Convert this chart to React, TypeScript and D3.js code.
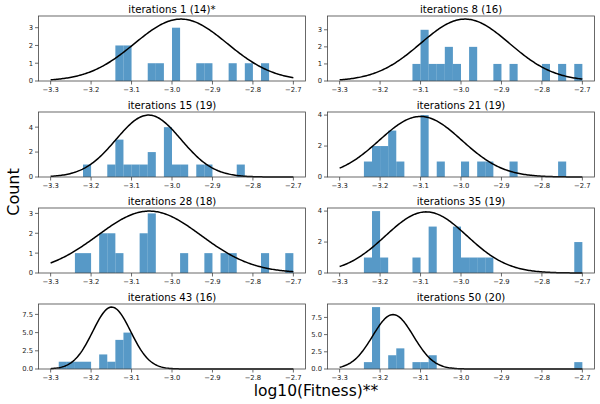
import React from "react";
import * as d3 from "d3";

const titles = [
  "iterations 1 (14)*",
  "iterations 8 (16)",
  "iterations 15 (19)",
  "iterations 21 (19)",
  "iterations 28 (18)",
  "iterations 35 (19)",
  "iterations 43 (16)",
  "iterations 50 (20)",
];

// bin left edges (bin width 0.02) and counts per panel
const binStarts: number[][] = [
  [-3.14, -3.12, -3.06, -3.04, -3.0, -2.94, -2.92, -2.86, -2.82, -2.78],
  [-3.12, -3.1, -3.08, -3.06, -3.04, -3.02, -2.98, -2.92, -2.88, -2.8, -2.76, -2.72],
  [-3.22, -3.16, -3.14, -3.12, -3.1, -3.08, -3.06, -3.02, -3.0, -2.98, -2.94, -2.92, -2.84],
  [-3.24, -3.22, -3.2, -3.18, -3.16, -3.1, -3.06, -3.0, -2.96, -2.94, -2.88, -2.76],
  [-3.24, -3.22, -3.18, -3.16, -3.14, -3.08, -3.06, -2.98, -2.92, -2.88, -2.86, -2.78, -2.72],
  [-3.24, -3.22, -3.2, -3.12, -3.08, -3.02, -3.0, -2.98, -2.96, -2.94, -2.72],
  [-3.28, -3.26, -3.24, -3.22, -3.18, -3.16, -3.14, -3.12],
  [-3.24, -3.22, -3.18, -3.16, -3.12, -3.1, -3.08, -2.72],
];
const counts: number[][] = [
  [2, 2, 1, 1, 3, 1, 1, 1, 1, 1],
  [1, 3, 1, 1, 2, 1, 2, 1, 1, 1, 1, 1],
  [1, 1, 3, 1, 1, 1, 2, 4, 1, 1, 1, 1, 1],
  [1, 2, 2, 3, 1, 4, 1, 1, 1, 1, 1, 1],
  [1, 1, 2, 2, 1, 2, 3, 1, 1, 1, 1, 1, 1],
  [1, 4, 1, 1, 3, 3, 1, 1, 1, 1, 2],
  [1, 1, 1, 1, 2, 1, 4, 5],
  [1, 9, 2, 3, 1, 1, 2, 1],
];
// fitted normal curve parameters per panel
const means = [-2.978, -2.99, -3.058, -3.1, -3.056, -3.086, -3.149, -3.168];
const stds = [0.1145, 0.11, 0.0803, 0.102, 0.128, 0.101, 0.0469, 0.0504];

const yTicks: number[][] = [
  [0, 1, 2, 3],
  [0, 1, 2, 3],
  [0, 2, 4],
  [0, 2, 4],
  [0, 1, 2, 3],
  [0, 2, 4],
  [0, 2.5, 5, 7.5],
  [0, 2.5, 5, 7.5],
];
const xTicks = [-3.3, -3.2, -3.1, -3.0, -2.9, -2.8, -2.7];

const BIN = 0.02;
const colLeft = [38.5, 327.5];
const panelW = 267;
const rowTop = [16, 112, 208, 304];
const panelH = 65;

const fmtMinus = (s: string) => s.replace("-", "\u2212");

function Panel({ i }: { i: number }) {
  const col = i % 2;
  const row = Math.floor(i / 2);
  const x0 = colLeft[col];
  const x1 = x0 + panelW;
  const y0 = rowTop[row];
  const y1 = y0 + panelH;
  const x = d3.scaleLinear().domain([-3.33, -2.67]).range([x0, x1]);
  const mu = means[i];
  const sd = stds[i];
  const pdf = (v: number) =>
    Math.exp(-((v - mu) * (v - mu)) / (2 * sd * sd)) / (sd * Math.sqrt(2 * Math.PI));
  const xs = d3.range(0, 201).map((k) => -3.3 + (0.6 * k) / 200);
  const curveMax = d3.max(xs, pdf) as number;
  const histMax = d3.max(counts[i]) as number;
  const ymax = Math.max(curveMax, histMax) * 1.05;
  const y = d3.scaleLinear().domain([0, ymax]).range([y1, y0]);
  const line = d3
    .line<number>()
    .x((v) => x(v))
    .y((v) => y(pdf(v)))
    .curve(d3.curveLinear);
  const decimals = yTicks[i].some((t) => !Number.isInteger(t));
  return (
    <g>
      <text
        x={(x0 + x1) / 2}
        y={y0 - 3.5}
        textAnchor="middle"
        fontSize={10.2}
        fill="#000"
      >
        {titles[i]}
      </text>
      {binStarts[i].map((b, k) => (
        <rect
          key={k}
          x={x(b)}
          y={y(counts[i][k])}
          width={x(b + BIN) - x(b)}
          height={y(0) - y(counts[i][k])}
          fill="#1f77b4"
          fillOpacity={0.75}
        />
      ))}
      <path d={line(xs) || ""} fill="none" stroke="#000" strokeWidth={1.5} />
      <rect x={x0} y={y0} width={panelW} height={panelH} fill="none" stroke="#444" strokeWidth={0.8} />
      {xTicks.map((t) => (
        <g key={t}>
          <line x1={x(t)} x2={x(t)} y1={y1} y2={y1 + 3.5} stroke="#444" strokeWidth={0.8} />
          <text x={x(t)} y={y1 + 10.5} textAnchor="middle" fontSize={6.8} fill="#222">
            {fmtMinus(t.toFixed(1))}
          </text>
        </g>
      ))}
      {yTicks[i].map((t) => (
        <g key={t}>
          <line x1={x0 - 3.5} x2={x0} y1={y(t)} y2={y(t)} stroke="#444" strokeWidth={0.8} />
          <text x={x0 - 5.5} y={y(t) + 2.4} textAnchor="end" fontSize={6.8} fill="#222">
            {decimals ? t.toFixed(1) : String(t)}
          </text>
        </g>
      ))}
    </g>
  );
}

export default function App() {
  return (
    <svg
      width={600}
      height={404}
      style={{ position: "absolute", left: 0, top: 0, background: "#fff" }}
      fontFamily="DejaVu Sans, sans-serif"
    >
      <rect x={0} y={0} width={600} height={404} fill="#fff" />
      {titles.map((_, i) => (
        <Panel key={i} i={i} />
      ))}
      <text x={316} y={396} textAnchor="middle" fontSize={15.5} fill="#000">
        log10(Fitness)**
      </text>
      <text
        transform="translate(19,192) rotate(-90)"
        textAnchor="middle"
        fontSize={16}
        fill="#000"
      >
        Count
      </text>
    </svg>
  );
}
